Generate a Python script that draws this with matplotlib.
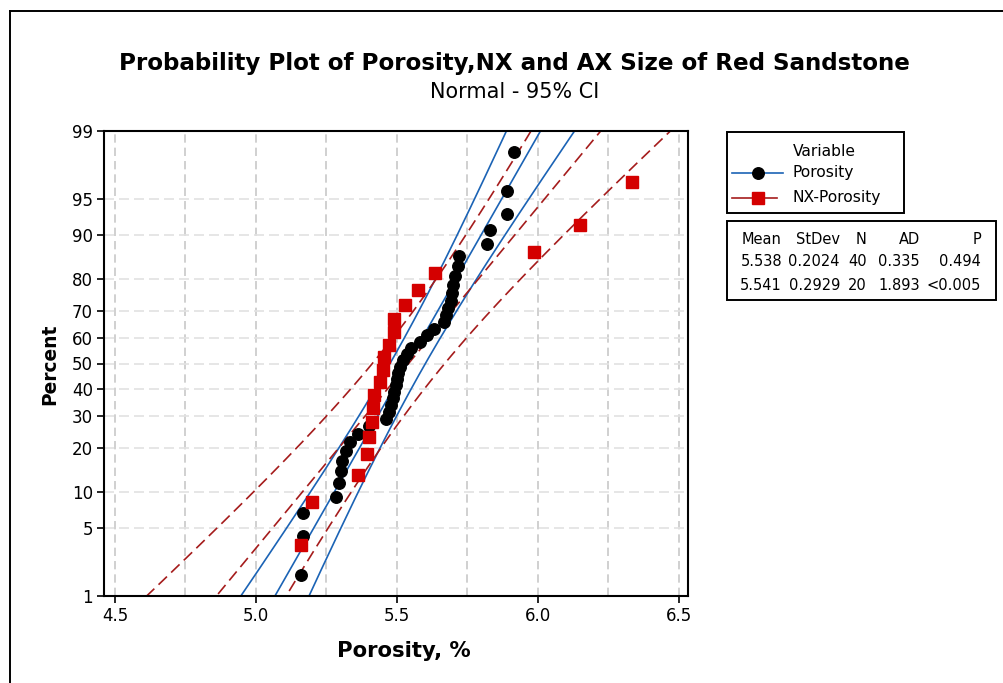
import numpy as np
import matplotlib
matplotlib.use("Agg")
import matplotlib.pyplot as plt
from matplotlib.lines import Line2D
from matplotlib.patches import Rectangle
from statistics import NormalDist

# ---- data -------------------------------------------------------------
variables = ["Porosity", "NX-Porosity"]

porosity = [5.160, 5.165, 5.165, 5.285, 5.295, 5.300, 5.305, 5.320, 5.335, 5.360,
            5.400, 5.460, 5.470, 5.480, 5.485, 5.490, 5.495, 5.500, 5.505, 5.510,
            5.520, 5.535, 5.550, 5.580, 5.605, 5.630, 5.665, 5.675, 5.680, 5.690,
            5.695, 5.700, 5.705, 5.715, 5.720, 5.820, 5.830, 5.890, 5.890, 5.915]

nx_porosity = [5.160, 5.200, 5.360, 5.395, 5.400, 5.410, 5.415, 5.420, 5.440, 5.450,
               5.455, 5.470, 5.490, 5.490, 5.530, 5.575, 5.635, 5.985, 6.150, 6.335]

means = [5.538, 5.541]
stdevs = [0.2024, 0.2929]
counts = [40, 20]
ad_stats = [0.335, 1.893]
p_values = ["0.494", "<0.005"]

percent_ticks = [1, 5, 10, 20, 30, 40, 50, 60, 70, 80, 90, 95, 99]
x_ticks = [4.5, 5.0, 5.5, 6.0, 6.5]
x_grid = [4.5, 4.75, 5.0, 5.25, 5.5, 5.75, 6.0, 6.25, 6.5]

# ---- styles -----------------------------------------------------------
W, H = 1004, 683
FONT = "DejaVu Sans"
BLUE = "#1b63b5"
DARK_RED = "#a51c1c"
RED = "#d40000"
line_styles = [dict(color=BLUE, lw=1.2, ls="-"),
               dict(color=DARK_RED, lw=1.2, ls=(0, (7, 3.5)))]
marker_styles = [dict(marker="o", color="black", ms=8.3),
                 dict(marker="s", color=RED, ms=8.4)]

plt.rcParams["font.family"] = [FONT]

_nd = NormalDist()


def pct_to_z(p):
    p = np.asarray(p, dtype=float)
    q = np.clip(p / 100.0, 1e-12, 1 - 1e-12)
    vals = [(_nd.inv_cdf(v) if np.isfinite(v) else np.nan) for v in q.ravel()]
    return np.array(vals, dtype=float).reshape(q.shape)


def z_to_pct(z):
    z = np.asarray(z, dtype=float)
    vals = [(_nd.cdf(v) * 100.0 if np.isfinite(v) else np.nan) for v in z.ravel()]
    return np.array(vals, dtype=float).reshape(z.shape)


def fx(x):
    return x / W


def fy(y):
    return 1 - y / H


fig = plt.figure(figsize=(W / 100, H / 100), dpi=100)
ax = fig.add_axes([fx(104), fy(596), (688 - 104) / W, (596 - 131) / H])

ax.set_yscale("function", functions=(pct_to_z, z_to_pct))
ax.set_xlim(4.461, 6.532)
ax.set_ylim(1, 99)

# grid
for gx in x_grid:
    ax.axvline(gx, color="#c8c8c8", lw=1.2, ls=(0, (5, 3)), zorder=0)
for gp in percent_ticks:
    ax.axhline(gp, color="#e2e2e2", lw=1.2, ls=(0, (6, 3)), zorder=0)

# fitted lines and 95% confidence bands
pgrid = np.linspace(0.5, 99.5, 400)
zgrid = pct_to_z(pgrid)
zc = 1.959964
for mu, sd, n, lst in zip(means, stdevs, counts, line_styles):
    fit = mu + sd * zgrid
    se = sd / np.sqrt(n) * np.sqrt(1 + zgrid ** 2 / 2)
    for xs in (fit, fit - zc * se, fit + zc * se):
        ax.plot(xs, pgrid, zorder=2, **lst)

# data points at median-rank plotting positions
for vals, mst, z in zip([porosity, nx_porosity], marker_styles, [3, 4]):
    v = np.sort(np.asarray(vals))
    n = len(v)
    ranks = np.arange(1, n + 1)
    pp = (ranks - 0.3) / (n + 0.4) * 100
    ax.plot(v, pp, ls="none", marker=mst["marker"], ms=mst["ms"],
            mfc=mst["color"], mec=mst["color"], zorder=z)

ax.set_xticks(x_ticks)
ax.set_xticklabels([f"{t:.1f}" for t in x_ticks])
ax.set_yticks(percent_ticks)
ax.set_yticklabels([str(t) for t in percent_ticks])
ax.yaxis.set_minor_locator(matplotlib.ticker.NullLocator())
ax.xaxis.set_minor_locator(matplotlib.ticker.NullLocator())
ax.tick_params(axis="both", direction="out", length=5, width=1.2,
               labelsize=12, pad=3, colors="black")
for sp in ax.spines.values():
    sp.set_linewidth(1.5)
    sp.set_color("black")

# outer frame
fig.add_artist(Line2D([fx(9.5), fx(9.5)], [fy(11), 0], color="black", lw=1.4,
                      transform=fig.transFigure))
fig.add_artist(Line2D([fx(9.5), 1], [fy(11), fy(11)], color="black", lw=1.4,
                      transform=fig.transFigure))

# titles and axis labels
title = fig.text(fx(514.5), fy(70), "Probability Plot of Porosity,NX and AX Size of Red Sandstone",
                 ha="center", va="baseline", fontsize=17, fontweight="bold")
subtitle = fig.text(fx(515), fy(98), "Normal - 95% CI", ha="center", va="baseline",
                    fontsize=12)
xlab = fig.text(fx(404), fy(651), "Porosity, %", ha="center", va="center",
                fontsize=14, fontweight="bold")
ylab = fig.text(fx(50), fy(364), "Percent", ha="center", va="center",
                rotation=90, fontsize=14, fontweight="bold")

renderer = fig.canvas.get_renderer()
for t, target, use_h in [(title, 795, False), (subtitle, 168, False),
                         (xlab, 134, False), (ylab, 82, True)]:
    bb = t.get_window_extent(renderer)
    size = bb.height if use_h else bb.width
    t.set_fontsize(t.get_fontsize() * target / size)

# legend box
fig.add_artist(Rectangle((fx(727), fy(213)), (904 - 727) / W, (213 - 132) / H,
                         transform=fig.transFigure, fill=False, ec="black", lw=1.4))
fig.text(fx(793), fy(151), "Variable", ha="left", va="center", fontsize=11.2)
leg_y = [173, 198]
leg_x1 = [783, 777]
for name, lst, mst, yy, x1 in zip(variables, line_styles, marker_styles, leg_y, leg_x1):
    fig.add_artist(Line2D([fx(732), fx(x1)], [fy(yy), fy(yy)], color=lst["color"],
                          lw=lst["lw"], transform=fig.transFigure))
    fig.add_artist(Line2D([fx(758)], [fy(yy)], ls="none", marker=mst["marker"],
                          ms=mst["ms"], mfc=mst["color"], mec=mst["color"],
                          transform=fig.transFigure))
    fig.text(fx(793), fy(yy), name, ha="left", va="center", fontsize=11.2)

# statistics table
fig.add_artist(Rectangle((fx(727), fy(300)), (996 - 727) / W, (300 - 221) / H,
                         transform=fig.transFigure, fill=False, ec="black", lw=1.4))
col_right = [782, 840, 867, 920, 981]
headers = ["Mean", "StDev", "N", "AD", "P"]
for cx, htxt in zip(col_right, headers):
    fig.text(fx(cx), fy(239), htxt, ha="right", va="center", fontsize=10.5)
for row, yy in enumerate([262, 286]):
    cells = [f"{means[row]:.3f}", f"{stdevs[row]:.4f}", str(counts[row]),
             f"{ad_stats[row]:.3f}", p_values[row]]
    for cx, ctxt in zip(col_right, cells):
        fig.text(fx(cx), fy(yy), ctxt, ha="right", va="center", fontsize=10.5)

fig.savefig("out.png", dpi=100)
